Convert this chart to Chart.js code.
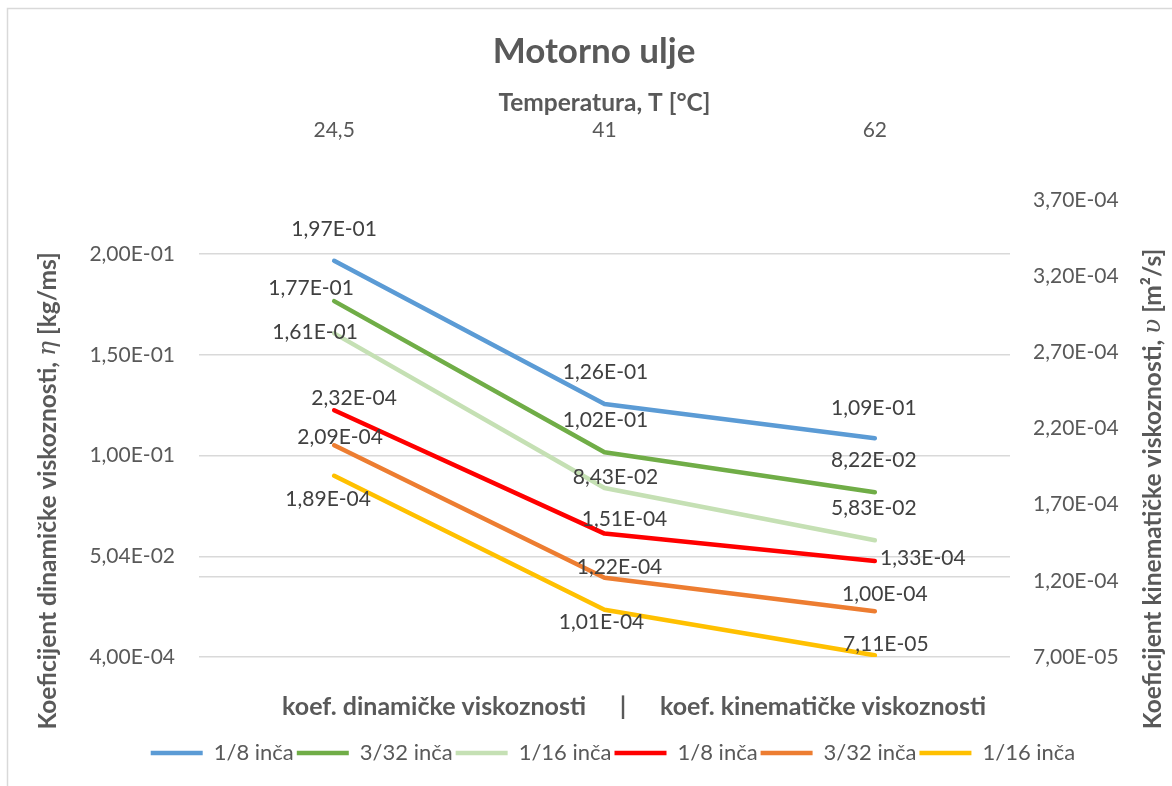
<!DOCTYPE html>
<html>
<head>
<meta charset="utf-8">
<script src="https://cdn.jsdelivr.net/npm/chart.js@4.4.1/dist/chart.umd.min.js"></script>
<style>
  html, body { margin: 0; padding: 0; background: #fff; }
</style>
</head>
<body>
<canvas id="chart" width="1172" height="786"></canvas>
<script>
// temperatures on the top axis
var temperature = ['24,5', '41', '62'];
var seriesNames = ['1/8 inča', '3/32 inča', '1/16 inča'];

// dynamic viscosity, left axis [kg/ms]
var dyn18 = [1.97e-1, 1.26e-1, 1.09e-1];
var dyn332 = [1.77e-1, 1.02e-1, 8.22e-2];
var dyn116 = [1.61e-1, 8.43e-2, 5.83e-2];

// kinematic viscosity, right axis [m2/s]
var kin18 = [2.32e-4, 1.51e-4, 1.33e-4];
var kin332 = [2.09e-4, 1.22e-4, 1.00e-4];
var kin116 = [1.89e-4, 1.01e-4, 7.11e-5];

// axis ticks
var dynTicks = [4.00e-4, 5.04e-2, 1.004e-1, 1.504e-1, 2.004e-1];
var dynExtraLine = [4.04e-2];
var kinTicks = [7.0e-5, 1.2e-4, 1.7e-4, 2.2e-4, 2.7e-4, 3.2e-4, 3.7e-4];

var FONT = 'Lato, "Liberation Sans", sans-serif';
var GREY = '#595959';

// label offsets from each point (dx, dy), per series
var labelShift = [
  [[0, -32], [1, -32], [-1, -30]],
  [[-23, -13], [1, -32], [-1, -32]],
  [[-19, -1], [11, -11], [-1, -32]],
  [[20, -12], [20, -14], [48, -3]],
  [[6, -8], [15, -11], [10, -17]],
  [[-6, 24], [-3, 12], [11, -11]]
];

function sci(v) {
  var s = v.toExponential(2).split('e');
  var exp = parseInt(s[1], 10);
  var sign = exp < 0 ? '-' : '+';
  exp = Math.abs(exp);
  return s[0].replace('.', ',') + 'E' + sign + (exp < 10 ? '0' : '') + exp;
}

function line(label, data, color, axis) {
  return {
    label: label,
    data: data,
    borderColor: color,
    backgroundColor: color,
    borderWidth: 4.5,
    borderCapStyle: 'round',
    borderJoinStyle: 'round',
    pointRadius: 0,
    pointHoverRadius: 0,
    tension: 0,
    xAxisID: 'x',
    yAxisID: axis
  };
}

function drawParts(ctx, parts, x, y, rot) {
  ctx.save();
  ctx.translate(x, y);
  ctx.rotate(rot);
  var total = 0;
  parts.forEach(function (p) {
    ctx.font = p.font;
    p.w = ctx.measureText(p.text).width;
    total += p.w;
  });
  var cx = -total / 2;
  ctx.textBaseline = 'middle';
  ctx.textAlign = 'left';
  ctx.fillStyle = GREY;
  parts.forEach(function (p) {
    ctx.font = p.font;
    ctx.fillText(p.text, cx, 0);
    cx += p.w;
  });
  ctx.restore();
}

// white background plus the frame line
var frame = {
  id: 'frame',
  beforeDraw: function (chart) {
    var ctx = chart.ctx;
    ctx.save();
    ctx.fillStyle = '#fff';
    ctx.fillRect(0, 0, chart.width, chart.height);
    ctx.strokeStyle = '#d9d9d9';
    ctx.lineWidth = 1.5;
    ctx.beginPath();
    ctx.moveTo(7.5, chart.height);
    ctx.lineTo(7.5, 8.5);
    ctx.lineTo(chart.width, 8.5);
    ctx.stroke();
    ctx.restore();
  }
};

// nudge the legend row a bit to the right
var legendShift = {
  id: 'legendShift',
  afterLayout: function (chart) {
    chart.legend.left += 19;
    chart.legend.right += 19;
  }
};

// value labels next to every point
var valueLabels = {
  id: 'valueLabels',
  afterDatasetsDraw: function (chart) {
    var ctx = chart.ctx;
    ctx.save();
    ctx.font = '21px ' + FONT;
    ctx.fillStyle = '#404040';
    ctx.textAlign = 'center';
    ctx.textBaseline = 'middle';
    chart.data.datasets.forEach(function (ds, i) {
      chart.getDatasetMeta(i).data.forEach(function (pt, j) {
        var s = labelShift[i][j];
        ctx.fillText(sci(ds.data[j]), pt.x + s[0], pt.y + s[1]);
      });
    });
    ctx.restore();
  }
};

// axis titles with italic symbols and the note under the plot
var sideTitles = {
  id: 'sideTitles',
  afterDraw: function (chart) {
    var ctx = chart.ctx;
    var bold = 'bold 24.5px ' + FONT;
    var ital = 'italic 25px "DejaVu Serif", serif';
    drawParts(ctx, [
      { text: 'Koeficijent dinamičke viskoznosti, ', font: bold },
      { text: 'η', font: ital },
      { text: ' [kg/ms]', font: bold }
    ], 48, 491, -Math.PI / 2);
    drawParts(ctx, [
      { text: 'Koeficijent kinematičke viskoznosti, ', font: bold },
      { text: 'υ', font: ital },
      { text: ' [m²/s]', font: bold }
    ], 1153, 489, -Math.PI / 2);

    var y = chart.chartArea.bottom + 50;
    ctx.save();
    ctx.font = 'bold 25px ' + FONT;
    ctx.fillStyle = GREY;
    ctx.textBaseline = 'middle';
    ctx.textAlign = 'right';
    ctx.fillText('koef. dinamičke viskoznosti', 586, y);
    ctx.textAlign = 'center';
    ctx.fillText('|', 623, y);
    ctx.textAlign = 'left';
    ctx.fillText('koef. kinematičke viskoznosti', 660, y);
    ctx.restore();
  }
};

new Chart(document.getElementById('chart'), {
  type: 'line',
  data: {
    labels: temperature,
    datasets: [
      line(seriesNames[0], dyn18, '#5B9BD5', 'y'),
      line(seriesNames[1], dyn332, '#70AD47', 'y'),
      line(seriesNames[2], dyn116, '#C5E0B4', 'y'),
      line(seriesNames[0], kin18, '#FF0000', 'y2'),
      line(seriesNames[1], kin332, '#ED7D31', 'y2'),
      line(seriesNames[2], kin116, '#FFC000', 'y2')
    ]
  },
  options: {
    responsive: false,
    animation: false,
    layout: { padding: { left: 16, right: 0, top: 0, bottom: 12 } },
    plugins: {
      title: {
        display: true,
        text: 'Motorno ulje',
        color: GREY,
        font: { family: FONT, size: 35, weight: 'bold' },
        padding: { top: 31, bottom: 7 }
      },
      legend: {
        position: 'bottom',
        labels: {
          usePointStyle: true,
          pointStyle: 'line',
          pointStyleWidth: 52,
          color: GREY,
          padding: 3,
          font: { family: FONT, size: 22 }
        }
      },
      tooltip: { enabled: false }
    },
    scales: {
      x: {
        type: 'category',
        position: 'top',
        offset: true,
        grid: { display: false, drawTicks: false },
        border: { display: false },
        ticks: { color: GREY, font: { family: FONT, size: 21 }, padding: 57 },
        title: {
          display: true,
          text: 'Temperatura, T [°C]',
          color: GREY,
          font: { family: FONT, size: 24.5, weight: 'bold' },
          padding: { top: 8.3, bottom: 0 }
        },
        afterFit: function (s) { s.height = 120; }
      },
      x2: {
        type: 'category',
        position: 'bottom',
        grid: { display: false, drawTicks: false },
        border: { display: false },
        ticks: { display: false },
        afterFit: function (s) { s.height = 82; }
      },
      y: {
        position: 'left',
        min: 4.0e-4,
        max: 0.2272,
        grid: { color: '#d9d9d9', lineWidth: 1.5, drawTicks: false },
        border: { display: false },
        ticks: {
          autoSkip: false,
          color: GREY,
          font: { family: FONT, size: 21 },
          padding: 24,
          callback: function (v) {
            return dynExtraLine.indexOf(v) >= 0 ? '' : sci(v);
          }
        },
        afterBuildTicks: function (s) {
          s.ticks = dynTicks.concat(dynExtraLine).sort(function (a, b) { return a - b; })
            .map(function (v) { return { value: v }; });
        },
        afterFit: function (s) { s.width = 183; }
      },
      y2: {
        position: 'right',
        min: 7.0e-5,
        max: 3.7e-4,
        grid: { display: false, drawTicks: false },
        border: { display: false },
        ticks: {
          autoSkip: false,
          color: GREY,
          font: { family: FONT, size: 21 },
          padding: 23,
          callback: function (v) { return sci(v); }
        },
        afterBuildTicks: function (s) {
          s.ticks = kinTicks.map(function (v) { return { value: v }; });
        },
        afterFit: function (s) { s.width = 162; }
      }
    }
  },
  plugins: [frame, legendShift, valueLabels, sideTitles]
});
</script>
</body>
</html>
